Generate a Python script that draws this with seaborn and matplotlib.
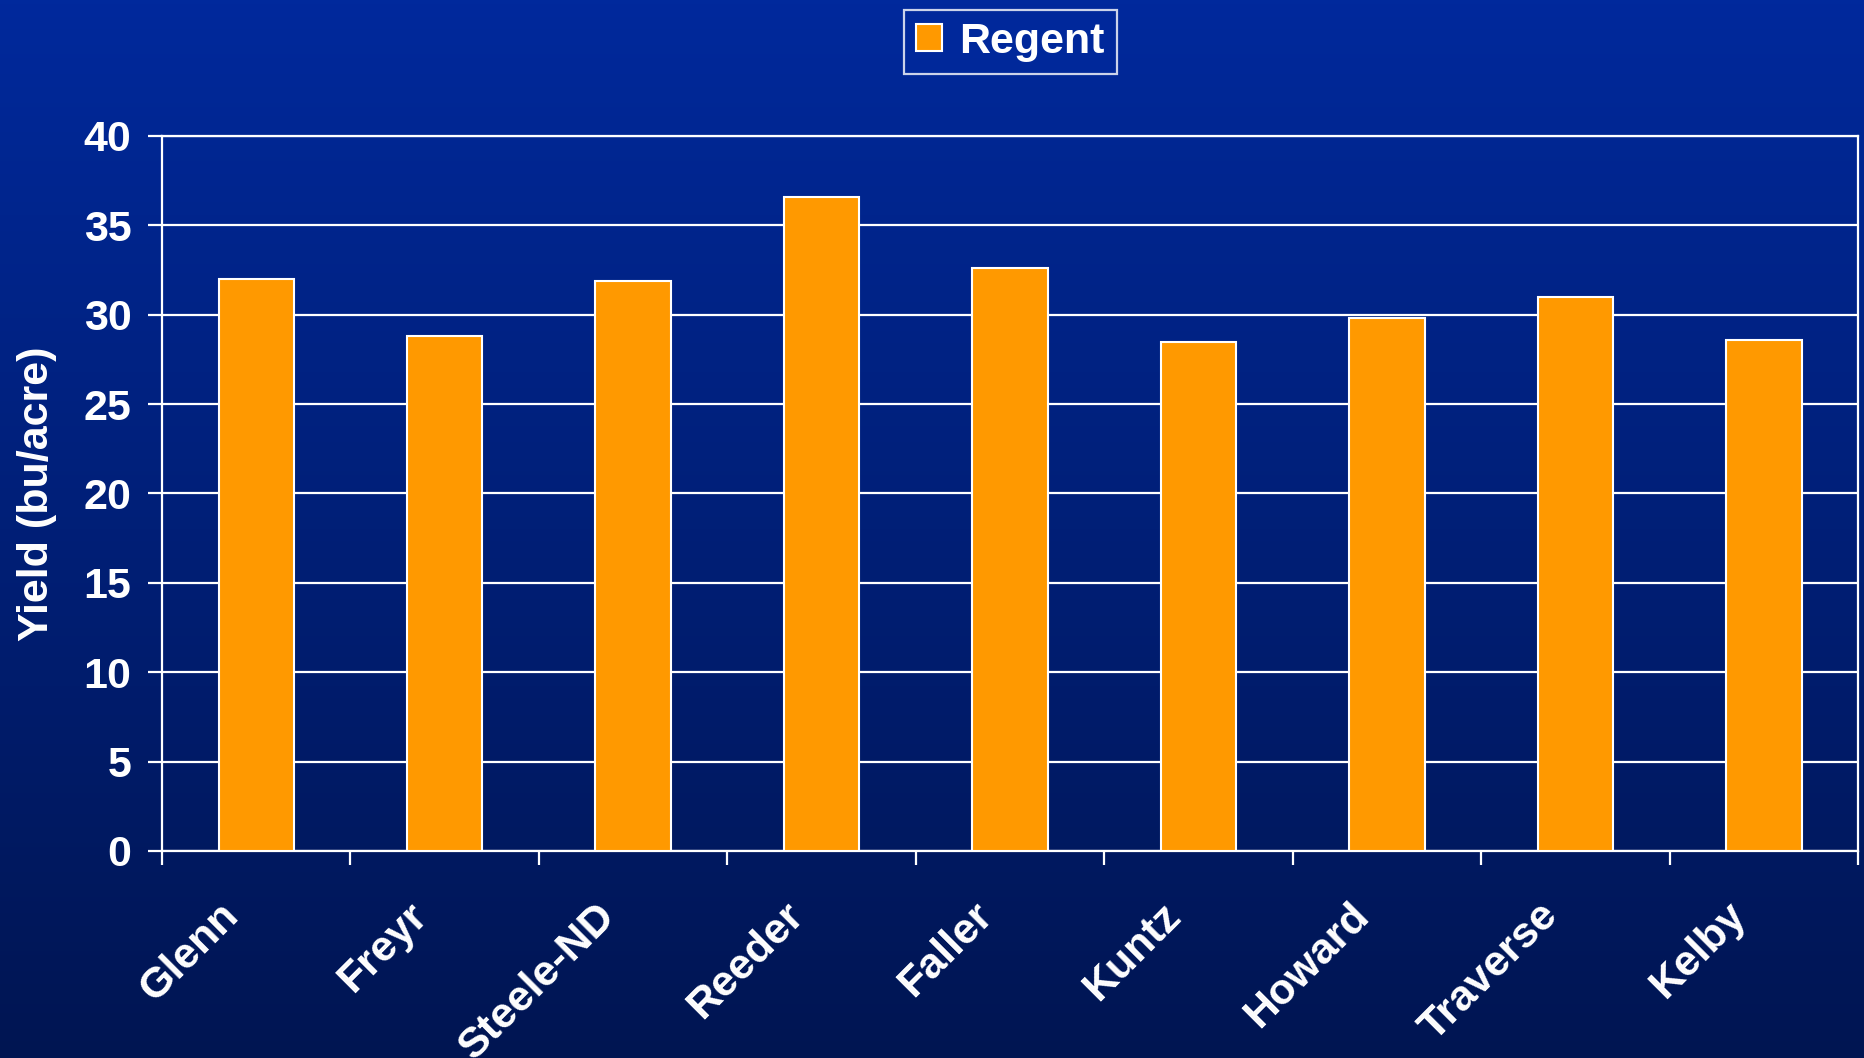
import numpy as np
import pandas as pd
import matplotlib
matplotlib.use("Agg")
import matplotlib.pyplot as plt
import matplotlib.transforms as mtransforms
from matplotlib.colors import LinearSegmentedColormap
from matplotlib.patches import Patch
import seaborn as sns

varieties = ["Glenn", "Freyr", "Steele-ND", "Reeder", "Faller", "Kuntz", "Howard", "Traverse", "Kelby"]
yields = [32.0, 28.8, 31.9, 36.6, 32.6, 28.5, 29.8, 31.0, 28.6]
series_name = "Regent"
y_ticks = [0, 5, 10, 15, 20, 25, 30, 35, 40]

df = pd.DataFrame({"variety": varieties, "yield": yields, "series": series_name})

sns.set_theme(style="white")
plt.rcParams["font.family"] = ["Liberation Sans", "DejaVu Sans"]
plt.rcParams["font.weight"] = "bold"

FS = 31

fig = plt.figure(figsize=(18.64, 10.58), dpi=100)

# gradient background
bg = fig.add_axes([0, 0, 1, 1], zorder=-10)
cmap = LinearSegmentedColormap.from_list("bg", ["#00299C", "#001552"])
grad = np.linspace(0, 1, 256).reshape(-1, 1)
bg.imshow(grad, aspect="auto", cmap=cmap, extent=[0, 1, 0, 1], origin="upper")
bg.set_axis_off()

ax = fig.add_axes([0.0869, 0.1957, 0.9099, 0.6758])
ax.set_facecolor("none")

sns.barplot(data=df, x="variety", y="yield", hue="series", palette={series_name: "#FF9900"},
            saturation=1, width=0.4, edgecolor="white", linewidth=1.5, ax=ax, legend=False, zorder=3)

ax.set_ylim(0, 40)
ax.set_xlim(-0.5, len(varieties) - 0.5)
ax.set_yticks(y_ticks)
ax.set_yticklabels([str(t) for t in y_ticks], fontsize=FS, fontweight="bold", color="white")
ax.yaxis.grid(True, color="white", linewidth=1.6, zorder=0)
ax.set_axisbelow(True)

for s in ax.spines.values():
    s.set_color("white")
    s.set_linewidth(1.6)

ax.tick_params(axis="y", direction="out", length=10, width=1.6, color="white", pad=12, left=True)

# x ticks at category boundaries (minor), labels at centers
ax.set_xticks(np.arange(len(varieties)))
ax.set_xticklabels(varieties, rotation=45, ha="right", rotation_mode="anchor",
                   fontsize=FS, fontweight="bold", color="white")
ax.tick_params(axis="x", which="major", length=0, pad=32)
offset = mtransforms.ScaledTranslation(-38 / 100, 0, fig.dpi_scale_trans)
for lab in ax.get_xticklabels():
    lab.set_transform(lab.get_transform() + offset)
ax.set_xticks(np.arange(-0.5, len(varieties), 1.0), minor=True)
ax.tick_params(axis="x", which="minor", direction="out", length=10, width=1.6, color="white", bottom=True)

ax.set_xlabel("")
ax.set_ylabel("Yield (bu/acre)", fontsize=FS, fontweight="bold", color="white")
ax.yaxis.set_label_coords(-0.062, 0.5)

handles = [Patch(facecolor="#FF9900", edgecolor="white", linewidth=1.5, label=series_name)]
leg = fig.legend(handles=handles, loc="center", bbox_to_anchor=(0.542, 0.9605), frameon=True,
                 fancybox=False, prop={"size": FS, "weight": "bold"}, handlelength=0.6,
                 handleheight=0.6, handletextpad=0.4, borderpad=0.28, borderaxespad=0)
leg.get_frame().set_edgecolor("white")
leg.get_frame().set_facecolor("#00299C")
leg.get_frame().set_linewidth(1.6)
for t in leg.get_texts():
    t.set_color("white")

fig.savefig("out.png", dpi=100)
